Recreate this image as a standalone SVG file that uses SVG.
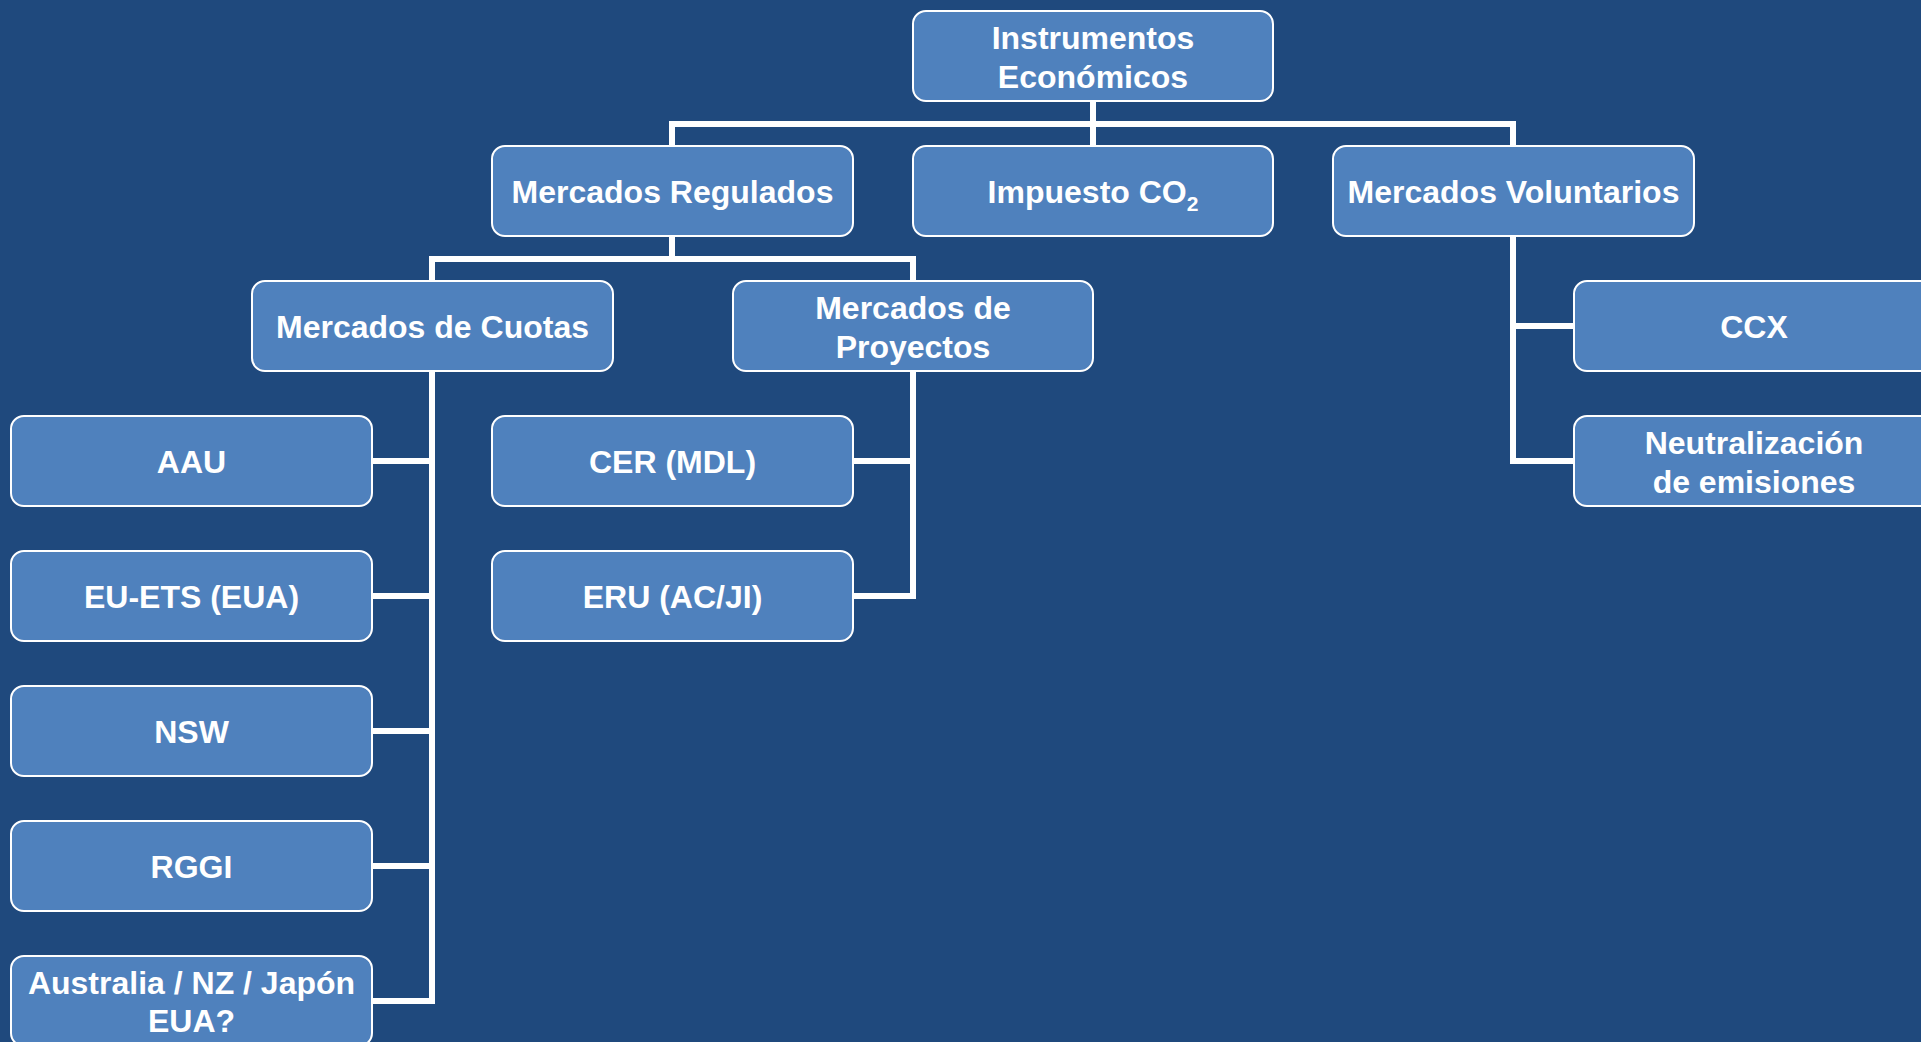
<svg xmlns="http://www.w3.org/2000/svg" width="1921" height="1042" viewBox="0 0 1921 1042">
<style>
.bg{fill:#1F497D}
.box{fill:#4F81BD;stroke:#FFFFFF;stroke-width:2}
.lbl{font-family:"Liberation Sans",Arial,sans-serif;font-weight:bold;font-size:32px;fill:#FFFFFF;text-anchor:middle}
.sub{font-size:21px}
.con{fill:none;stroke:#FFFFFF;stroke-width:6;stroke-linejoin:miter;stroke-linecap:butt}
</style>
<rect class="bg" x="0" y="0" width="1921" height="1042"/>
<g id="connectors">
<path class="con" d="M1093 101 V146"/>
<path class="con" d="M672 146 V124 H1513 V146"/>
<path class="con" d="M672 236 V259"/>
<path class="con" d="M432 281 V259 H913 V281"/>
<path class="con" d="M432 371 V1001 H372"/>
<path class="con" d="M372 461 H432 M372 596 H432 M372 731 H432 M372 866 H432"/>
<path class="con" d="M913 371 V596 H853"/>
<path class="con" d="M853 461 H913"/>
<path class="con" d="M1513 236 V461 H1574"/>
<path class="con" d="M1513 326 H1574"/>
</g>
<g id="n-instrumentos"><rect class="box" x="913" y="11" width="360" height="90" rx="13"/><text class="lbl" x="1093" y="49">Instrumentos</text><text class="lbl" x="1093" y="88">Económicos</text></g>
<g id="n-regulados"><rect class="box" x="492" y="146" width="361" height="90" rx="13"/><text class="lbl" x="672.5" y="203">Mercados Regulados</text></g>
<g id="n-impuesto"><rect class="box" x="913" y="146" width="360" height="90" rx="13"/><text class="lbl" x="1093" y="203">Impuesto CO<tspan class="sub" dy="8">2</tspan></text></g>
<g id="n-voluntarios"><rect class="box" x="1333" y="146" width="361" height="90" rx="13"/><text class="lbl" x="1513.5" y="203">Mercados Voluntarios</text></g>
<g id="n-cuotas"><rect class="box" x="252" y="281" width="361" height="90" rx="13"/><text class="lbl" x="432.5" y="338">Mercados de Cuotas</text></g>
<g id="n-proyectos"><rect class="box" x="733" y="281" width="360" height="90" rx="13"/><text class="lbl" x="913" y="319">Mercados de</text><text class="lbl" x="913" y="358">Proyectos</text></g>
<g id="n-ccx"><rect class="box" x="1574" y="281" width="361" height="90" rx="13"/><text class="lbl" x="1754" y="338">CCX</text></g>
<g id="n-neutralizacion"><rect class="box" x="1574" y="416" width="361" height="90" rx="13"/><text class="lbl" x="1754" y="454">Neutralización</text><text class="lbl" x="1754" y="493">de emisiones</text></g>
<g id="n-aau"><rect class="box" x="11" y="416" width="361" height="90" rx="13"/><text class="lbl" x="191.5" y="473">AAU</text></g>
<g id="n-cer"><rect class="box" x="492" y="416" width="361" height="90" rx="13"/><text class="lbl" x="672.5" y="473">CER (MDL)</text></g>
<g id="n-euets"><rect class="box" x="11" y="551" width="361" height="90" rx="13"/><text class="lbl" x="191.5" y="608">EU-ETS (EUA)</text></g>
<g id="n-eru"><rect class="box" x="492" y="551" width="361" height="90" rx="13"/><text class="lbl" x="672.5" y="608">ERU (AC/JI)</text></g>
<g id="n-nsw"><rect class="box" x="11" y="686" width="361" height="90" rx="13"/><text class="lbl" x="191.5" y="743">NSW</text></g>
<g id="n-rggi"><rect class="box" x="11" y="821" width="361" height="90" rx="13"/><text class="lbl" x="191.5" y="878">RGGI</text></g>
<g id="n-australia"><rect class="box" x="11" y="956" width="361" height="90" rx="13"/><text class="lbl" x="191.5" y="994">Australia / NZ / Japón</text><text class="lbl" x="191.5" y="1032">EUA?</text></g>
</svg>
